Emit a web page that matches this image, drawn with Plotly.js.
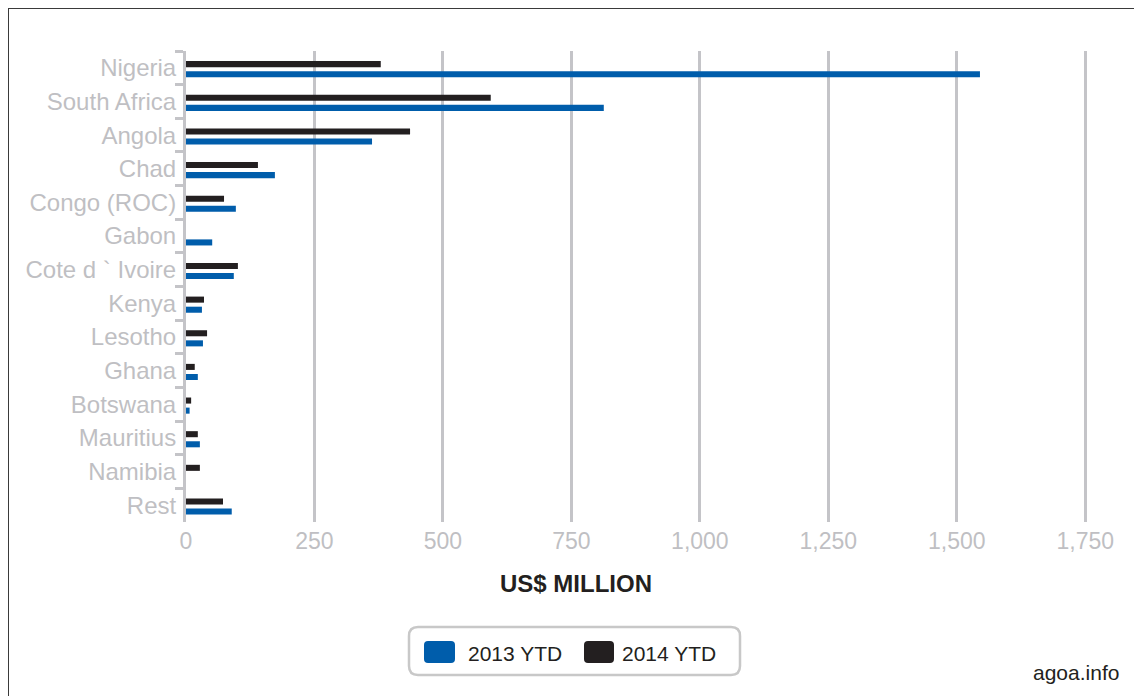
<!DOCTYPE html>
<html>
<head>
<meta charset="utf-8">
<script src="https://cdn.plot.ly/plotly-3.0.1.min.js"></script>
<style>
  html, body { margin: 0; padding: 0; background: #ffffff; }
  #wrap { position: relative; width: 1134px; height: 696px; overflow: hidden; }
  #chart { position: absolute; left: 0; top: 0; width: 1134px; height: 696px; }
  #frame { position: absolute; left: 8px; top: 8px; width: 1200px; height: 800px;
           border: 1px solid #3a3a3a; pointer-events: none; }
</style>
</head>
<body>
<div id="wrap">
  <div id="chart"></div>
  <div id="frame"></div>
</div>
<script>
// ---- data ----
const countries = ["Nigeria", "South Africa", "Angola", "Chad", "Congo (ROC)", "Gabon",
  "Cote d ` Ivoire", "Kenya", "Lesotho", "Ghana", "Botswana", "Mauritius", "Namibia", "Rest"];
const ytd2013 = [1545, 813, 362, 173, 97, 51, 93, 31, 33, 23, 7, 27, 0, 89];
const ytd2014 = [379, 593, 436, 140, 74, 0, 101, 35, 41, 17, 10, 23, 27, 72];
const seriesNames = ["2013 YTD", "2014 YTD"];
const xTickVals = [0, 250, 500, 750, 1000, 1250, 1500, 1750];
const xTitle = "US$ MILLION";
const credit = "agoa.info";

// ---- style ----
const BLUE = "#005dab";
const BLACK = "#231f20";
const GRAY = "#c4c4c8";
const LABEL = "#bfbfc3";
const FONT = "Liberation Sans, Arial, Helvetica, sans-serif";

// plot area in pixels
const L = 186, R = 1111, T = 51, B = 522;
const px2x = p => (p - L) / (R - L);
const px2y = p => (B - p) / (B - T);

function roundRect(x0, y0, x1, y1, r) {
  const X = px2x, Y = px2y;
  return "M " + X(x0 + r) + "," + Y(y0) +
    " L " + X(x1 - r) + "," + Y(y0) +
    " Q " + X(x1) + "," + Y(y0) + " " + X(x1) + "," + Y(y0 + r) +
    " L " + X(x1) + "," + Y(y1 - r) +
    " Q " + X(x1) + "," + Y(y1) + " " + X(x1 - r) + "," + Y(y1) +
    " L " + X(x0 + r) + "," + Y(y1) +
    " Q " + X(x0) + "," + Y(y1) + " " + X(x0) + "," + Y(y1 - r) +
    " L " + X(x0) + "," + Y(y0 + r) +
    " Q " + X(x0) + "," + Y(y0) + " " + X(x0 + r) + "," + Y(y0) + " Z";
}

const traces = [
  {
    type: "bar", orientation: "h", name: seriesNames[0],
    y: countries, x: ytd2013,
    marker: { color: BLUE }, width: 0.18, offset: 0.1,
    hoverinfo: "x+y+name"
  },
  {
    type: "bar", orientation: "h", name: seriesNames[1],
    y: countries, x: ytd2014,
    marker: { color: BLACK }, width: 0.18, offset: -0.2,
    hoverinfo: "x+y+name"
  }
];

const layout = {
  width: 1134, height: 696,
  margin: { l: L, r: 1134 - R, t: T, b: 696 - B, pad: 0 },
  paper_bgcolor: "#ffffff", plot_bgcolor: "#ffffff",
  showlegend: false,
  font: { family: FONT },
  xaxis: {
    range: [0, 1800],
    tickvals: xTickVals,
    tickformat: ",d",
    showgrid: true, gridcolor: GRAY, gridwidth: 3,
    zeroline: false, showline: false, ticks: "",
    ticklabelstandoff: 3,
    tickfont: { family: FONT, size: 23, color: LABEL },
    fixedrange: true
  },
  yaxis: {
    type: "category",
    categoryorder: "array", categoryarray: countries,
    autorange: "reversed",
    tickson: "boundaries",
    ticks: "outside", ticklen: 8, tickwidth: 3, tickcolor: GRAY,
    showline: true, linecolor: GRAY, linewidth: 3,
    showgrid: false, zeroline: false,
    ticklabelstandoff: 2,
    tickfont: { family: FONT, size: 24, color: LABEL },
    fixedrange: true
  },
  shapes: [
    { type: "path", xref: "paper", yref: "paper", path: roundRect(409, 627, 740, 675, 9),
      line: { color: "#c8c8c8", width: 2.5 }, fillcolor: "rgba(0,0,0,0)" },
    { type: "path", xref: "paper", yref: "paper", path: roundRect(424, 641, 455, 663, 4),
      line: { width: 0 }, fillcolor: BLUE },
    { type: "path", xref: "paper", yref: "paper", path: roundRect(584, 641, 614, 663, 4),
      line: { width: 0 }, fillcolor: BLACK }
  ],
  annotations: [
    { xref: "paper", yref: "paper", x: px2x(576), y: px2y(583), xanchor: "center", yanchor: "middle",
      text: "<b>" + xTitle + "</b>", showarrow: false, font: { family: FONT, size: 24, color: BLACK } },
    { xref: "paper", yref: "paper", x: px2x(466), y: px2y(653), xanchor: "left", yanchor: "middle",
      text: seriesNames[0], showarrow: false, font: { family: FONT, size: 21, color: BLACK } },
    { xref: "paper", yref: "paper", x: px2x(620), y: px2y(653), xanchor: "left", yanchor: "middle",
      text: seriesNames[1], showarrow: false, font: { family: FONT, size: 21, color: BLACK } },
    { xref: "paper", yref: "paper", x: px2x(1121), y: px2y(672), xanchor: "right", yanchor: "middle",
      text: credit, showarrow: false, font: { family: FONT, size: 21, color: BLACK } }
  ]
};

Plotly.newPlot("chart", traces, layout, { displayModeBar: false });
</script>
</body>
</html>
